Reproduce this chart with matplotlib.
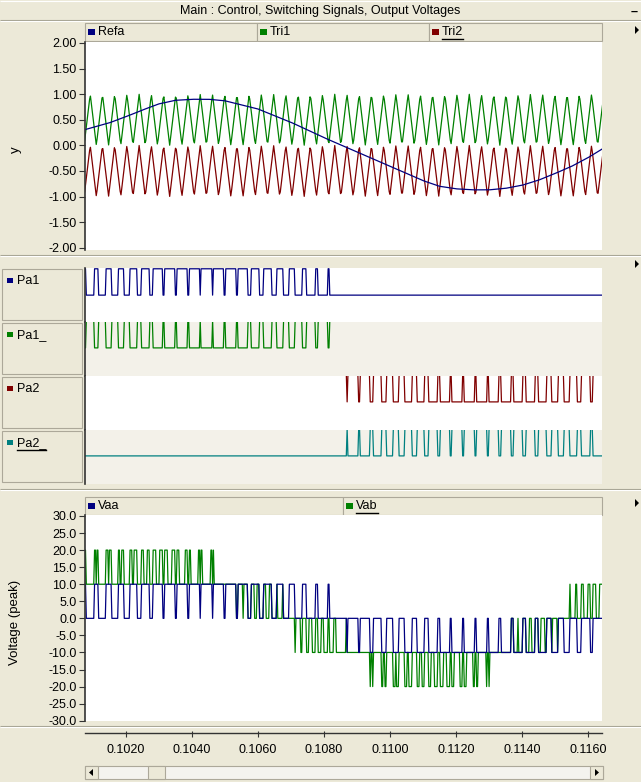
import numpy as np
import matplotlib
matplotlib.use("Agg")
import matplotlib.pyplot as plt
from matplotlib.patches import Rectangle, Polygon

plt.rcParams['font.family'] = ['Liberation Sans', 'DejaVu Sans']
plt.rcParams['font.size'] = 9

W, H = 641, 782
BG = '#ECE9D8'
EDGE = '#ACA899'
NAVY, GREEN, MAROON, TEAL = '#000080', '#008000', '#800000', '#008080'

# reference waveforms, one value every 0.5 ms starting at t = 0.1005 s
ref_t0, ref_dt = 0.1005, 0.0005
refa = [0.26, 0.35, 0.44, 0.56, 0.69, 0.81, 0.88, 0.90, 0.90, 0.87,
        0.79, 0.71, 0.58, 0.45, 0.30, 0.15, 0.01, -0.13, -0.27, -0.41,
        -0.55, -0.69, -0.80, -0.85, -0.87, -0.87, -0.84, -0.78, -0.68, -0.55,
        -0.41, -0.24, -0.04, 0.12]
refb = [-0.864, -0.896, -0.896, -0.864, -0.802, -0.711, -0.595, -0.458, -0.304, -0.140,
        0.029, 0.197, 0.358, 0.506, 0.68, 0.80, 0.87, 0.90, 0.90, 0.90,
        0.88, 0.82, 0.72, 0.552, 0.408, 0.250, 0.084, -0.085, -0.251, -0.409,
        -0.552, -0.675, -0.775, -0.847]

# triangular carriers: Tri1 swings 0..1, Tri2 sits one unit lower
carrier_hz = 2700.0
carrier_peak = 0.100918
tri1_lo, tri1_hi = 0.0, 1.0
tri2_offset = -1.0

step_volts = 10.0
sim_dt = 25e-6

t_start, t_end = 0.10076, 0.11642
x_ticks = [0.1020, 0.1040, 0.1060, 0.1080, 0.1100, 0.1120, 0.1140, 0.1160]
y_ticks_top = [2.0, 1.5, 1.0, 0.5, 0.0, -0.5, -1.0, -1.5, -2.0]
y_ticks_volt = [30, 25, 20, 15, 10, 5, 0, -5, -10, -15, -20, -25, -30]

# ---- signals ----
ref_time = ref_t0 + ref_dt * np.arange(len(refa))
t = np.arange(ref_t0, ref_time[-1], sim_dt)
ra = np.interp(t, ref_time, refa)
rb = np.interp(t, ref_time, refb)

period = 1.0 / carrier_hz
k = np.arange(-3, 50)
vt = np.empty(2 * len(k))
vv = np.empty(2 * len(k))
vt[0::2] = carrier_peak + k * period - period / 2
vt[1::2] = carrier_peak + k * period
vv[0::2] = tri1_lo
vv[1::2] = tri1_hi
tri1 = np.interp(t, vt, vv)
tri2 = tri1 + tri2_offset

pa1 = (ra > tri1).astype(float)
pa2 = (ra > tri2).astype(float)
pa1_ = 1 - pa1
pa2_ = 1 - pa2
pb1 = (rb > tri1).astype(float)
pb2 = (rb > tri2).astype(float)
vaa = step_volts * (pa1 + pa2 - 1)
vbb = step_volts * (pb1 + pb2 - 1)
vab = vaa - vbb


def box(x0, y0, x1, y1):
    return [x0 / W, 1 - y1 / H, (x1 - x0) / W, (y1 - y0) / H]


fig = plt.figure(figsize=(W / 100, H / 100), dpi=100, facecolor=BG)
bg = fig.add_axes([0, 0, 1, 1])
bg.set_xlim(0, W)
bg.set_ylim(H, 0)
bg.axis('off')


def hline(y, x0=0, x1=W, c=EDGE, lw=0.8):
    bg.plot([x0, x1], [y, y], color=c, lw=lw, solid_capstyle='butt')


def groove(y):
    hline(y, c='#A5A291')
    hline(y + 1, c='white')


def arrow_right(x, y, c='black'):
    bg.add_patch(Polygon([[x, y - 4], [x + 4, y], [x, y + 4]], closed=True, fc=c, ec='none'))


# title bar
hline(1, c='white')
bg.text(W / 2, 11, 'Main : Control, Switching Signals, Output Voltages',
        ha='center', va='center', fontsize=9)
bg.text(634, 12, '–', ha='center', va='center', fontsize=9, fontweight='bold')
groove(20)

underlines = []


def legend_cell(x0, x1, y0, y1, color, label, underline=False):
    bg.add_patch(Rectangle((x0, y0), x1 - x0, y1 - y0, fc=BG, ec=EDGE, lw=0.8))
    yc = (y0 + y1) / 2
    bg.add_patch(Rectangle((x0 + 3, yc - 3), 7, 6, fc=color, ec='none'))
    txt = bg.text(x0 + 13, yc, label, ha='left', va='center', fontsize=9)
    if underline:
        underlines.append(txt)


# top panel legend
legend_cell(85, 257, 23, 41, NAVY, 'Refa')
legend_cell(257, 429, 23, 41, GREEN, 'Tri1')
legend_cell(429, 602, 23, 41, MAROON, 'Tri2', underline=True)
arrow_right(635, 30)

ax_top = fig.add_axes(box(85, 41.7, 602, 250))
ax_top.plot(t, tri1, color=GREEN, lw=0.9)
ax_top.plot(t, tri2, color=MAROON, lw=0.9)
ax_top.plot(t, ra, color=NAVY, lw=0.9)
ax_top.set_xlim(t_start, t_end)
ax_top.set_ylim(-2.045, 2.025)
ax_top.set_yticks(y_ticks_top)
ax_top.set_yticklabels(['%.2f' % v for v in y_ticks_top])
ax_top.set_xticks([])
for s in ['top', 'right', 'bottom']:
    ax_top.spines[s].set_visible(False)
ax_top.spines['left'].set_color('#333333')
ax_top.spines['left'].set_linewidth(1.2)
ax_top.tick_params(axis='y', length=4, width=0.8, color='#333333', pad=2, labelsize=9)
bg.text(16, 150, 'y', rotation=90, ha='center', va='center', fontsize=9.5)

groove(255)
arrow_right(635, 264)

# switching signals, one lane each; the "on" level of the lower three lanes
# sits on the lane edge and is not shown
lanes = [('Pa1', pa1, NAVY, 'white', 1.03),
         ('Pa1_', pa1_, GREEN, '#F3F1E9', 0.94),
         ('Pa2', pa2, MAROON, 'white', 0.94),
         ('Pa2_', pa2_, TEAL, '#F3F1E9', 0.94)]
lane_top, lane_h = 268, 54
for i, (name, sig, col, face, ytop) in enumerate(lanes):
    y0 = lane_top + i * lane_h
    ax = fig.add_axes(box(85, y0, 602, y0 + lane_h))
    ax.set_facecolor(face)
    ax.plot(t, sig, color=col, lw=0.9)
    ax.set_xlim(t_start, t_end)
    ax.set_ylim(-1.02, ytop)
    ax.set_xticks([])
    ax.set_yticks([])
    for s in ['top', 'right', 'bottom']:
        ax.spines[s].set_visible(False)
    ax.spines['left'].set_color('#333333')
    ax.spines['left'].set_linewidth(1.2)
    # label cell on the left
    bg.add_patch(Rectangle((2, y0 + 1), 80, lane_h - 3, fc=BG, ec=EDGE, lw=0.8))
    bg.add_patch(Rectangle((7, y0 + 10), 6, 5, fc=col, ec='none'))
    txt = bg.text(17, y0 + 13, name, ha='left', va='center', fontsize=9)
    if name == 'Pa2_':
        underlines.append(txt)

groove(489)
arrow_right(635, 503)

# output voltages
legend_cell(85, 343, 497, 515, NAVY, 'Vaa')
legend_cell(343, 602, 497, 515, GREEN, 'Vab', underline=True)

ax_v = fig.add_axes(box(85, 515, 602, 721))
ax_v.plot(t, vab, color=GREEN, lw=0.9)
ax_v.plot(t, vaa, color=NAVY, lw=0.9)
ax_v.set_xlim(t_start, t_end)
ax_v.set_ylim(-30.09, 30.29)
ax_v.set_yticks(y_ticks_volt)
ax_v.set_yticklabels(['%.1f' % v for v in y_ticks_volt])
ax_v.set_xticks([])
for s in ['top', 'right', 'bottom']:
    ax_v.spines[s].set_visible(False)
ax_v.spines['left'].set_color('#333333')
ax_v.spines['left'].set_linewidth(1.2)
ax_v.tick_params(axis='y', length=4, width=0.8, color='#333333', pad=2, labelsize=9)
bg.text(15, 622, 'Voltage (peak)', rotation=90, ha='center', va='center', fontsize=9.5)

groove(726)

# shared time axis
ax_x = fig.add_axes(box(85, 733, 602, 737))
ax_x.patch.set_visible(False)
ax_x.set_xlim(t_start, t_end)
ax_x.set_xticks(x_ticks)
ax_x.set_xticklabels(['%.4f' % v for v in x_ticks])
ax_x.set_yticks([])
for s in ['left', 'right', 'bottom']:
    ax_x.spines[s].set_visible(False)
ax_x.spines['top'].set_color('#333333')
ax_x.spines['top'].set_linewidth(1.0)
ax_x.tick_params(axis='x', direction='in', length=4, width=0.8, color='#333333',
                 pad=5, labelsize=9)

# scroll bar
bg.add_patch(Rectangle((85, 766), 518, 13, fc='#F4F3EE', ec=EDGE, lw=0.8))
bg.add_patch(Rectangle((85, 766), 13, 13, fc=BG, ec=EDGE, lw=0.8))
bg.add_patch(Rectangle((590, 766), 13, 13, fc=BG, ec=EDGE, lw=0.8))
bg.add_patch(Rectangle((148, 766), 17, 13, fc=BG, ec=EDGE, lw=0.8))
bg.add_patch(Polygon([[93, 769], [89, 772.5], [93, 776]], closed=True, fc='black', ec='none'))
bg.add_patch(Polygon([[595, 769], [599, 772.5], [595, 776]], closed=True, fc='black', ec='none'))

# focus underline under the active labels
fig.canvas.draw()
inv = bg.transData.inverted()
for txt in underlines:
    bb = txt.get_window_extent()
    (xa, ya), (xb, yb) = inv.transform([[bb.x0, bb.y0], [bb.x1, bb.y1]])
    bg.plot([xa, xb], [ya + 1, ya + 1], color='black', lw=1.0)

fig.savefig('out.png', dpi=100, facecolor=BG)
